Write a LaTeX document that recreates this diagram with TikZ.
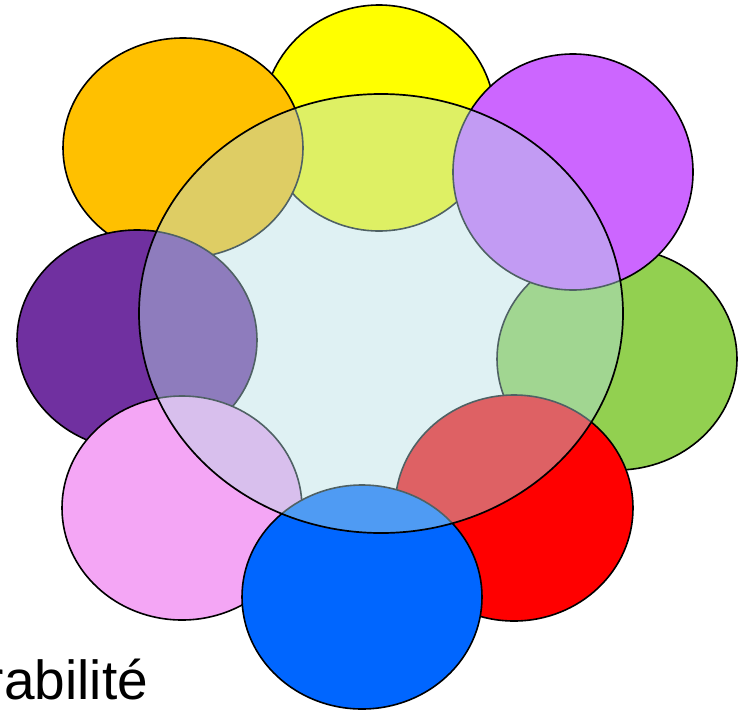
\documentclass[tikz,border=0pt]{standalone}
\usepackage{fontspec}
\setmainfont{Liberation Sans}
\definecolor{cyellow}{RGB}{255,255,0}
\definecolor{corange}{RGB}{255,192,0}
\definecolor{cviolet}{RGB}{204,102,255}
\definecolor{cgreen}{RGB}{146,208,80}
\definecolor{cdpurple}{RGB}{112,48,160}
\definecolor{cred}{RGB}{255,0,0}
\definecolor{cpink}{RGB}{244,166,245}
\definecolor{cblue}{RGB}{0,102,255}
\definecolor{ccenter}{RGB}{182,223,228}
\tikzset{
  petal/.style={draw=black, line width=1.6pt, fill=#1},
  hub/.style={draw=black, line width=1.7pt, fill=ccenter, fill opacity=0.44, draw opacity=1},
  label/.style={font=\fontsize{55}{60}\selectfont, inner sep=0pt, outer sep=0pt, anchor=base west}
}
\begin{document}
\begin{tikzpicture}[x=1pt,y=-1pt]
\useasboundingbox (0,0) rectangle (743,713);
% petals (bottom to top)
\draw[petal=cyellow] (379,118) ellipse [x radius=116pt, y radius=113pt];
\draw[petal=cgreen] (617,359) ellipse [x radius=120pt, y radius=111pt];
\draw[petal=corange] (183,148) ellipse [x radius=120pt, y radius=110pt];
\draw[petal=cviolet] (573,172) ellipse [x radius=120pt, y radius=118pt];
\draw[petal=cdpurple] (137,340) ellipse [x radius=120pt, y radius=110pt];
\draw[petal=cred] (514,508) ellipse [x radius=119pt, y radius=113pt];
\draw[petal=cpink] (182,508) ellipse [x radius=120pt, y radius=112pt];
\draw[petal=cblue] (362,597) ellipse [x radius=120pt, y radius=112pt];
% central translucent ellipse
\draw[hub] (381,313.5) ellipse [x radius=242pt, y radius=219.5pt];
% text
\node[label] (word) at (-14,699) {rabilité};
\end{tikzpicture}
\end{document}
